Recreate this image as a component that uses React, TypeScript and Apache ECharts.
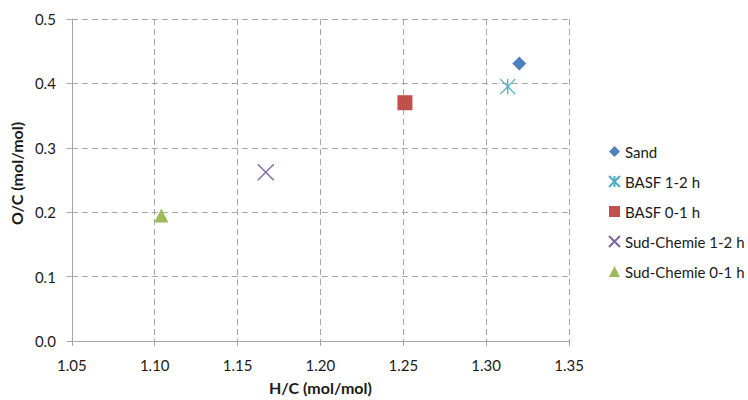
import React, { useEffect, useRef } from "react";
import * as echarts from "echarts";

const seriesNames = ["Sand", "BASF 1-2 h", "BASF 0-1 h", "Sud-Chemie 1-2 h", "Sud-Chemie 0-1 h"];
const hcValues = [1.32, 1.313, 1.251, 1.167, 1.104];
const ocValues = [0.431, 0.395, 0.37, 0.262, 0.195];
const xTicks = [1.05, 1.35, 0.05];
const yTicks = [0, 0.5, 0.1];

const colors = ["#4F81BD", "#4BACC6", "#C0504D", "#8064A2", "#9BBB59"];
const symbols = [
  "diamond",
  "path://M0,0L10,10M10,0L0,10M5,0L5,10",
  "rect",
  "path://M0,0L10,10M10,0L0,10",
  "triangle",
];
const sizes = [14, 15, 15, 16, 14];
const stroked = [false, true, false, true, false];

const FONT = "Lato, 'Noto Sans', sans-serif";

export default function App() {
  const ref = useRef<HTMLDivElement>(null);
  useEffect(() => {
    if (!ref.current) return;
    const chart = echarts.init(ref.current, undefined, { renderer: "svg" });
    chart.setOption({
      animation: false,
      textStyle: { fontFamily: FONT },
      grid: { left: 68.5, right: 179, top: 19, bottom: 56, containLabel: false },
      xAxis: {
        type: "value",
        min: xTicks[0],
        max: xTicks[1],
        interval: xTicks[2],
        name: "H/C (mol/mol)",
        nameLocation: "middle",
        nameGap: 38,
        nameTextStyle: { fontWeight: "bold", fontSize: 16, color: "#1a1a1a", fontFamily: FONT },
        axisLine: { lineStyle: { color: "#A6A6A6", width: 1 } },
        axisTick: { show: true, length: 5, lineStyle: { color: "#A6A6A6" } },
        axisLabel: { fontSize: 15, color: "#1a1a1a", margin: 16, formatter: (v: number) => v.toFixed(2), fontFamily: FONT },
        splitLine: { show: true, lineStyle: { color: "#A6A6A6", type: [6, 4], width: 1 } },
      },
      yAxis: {
        type: "value",
        min: yTicks[0],
        max: yTicks[1],
        interval: yTicks[2],
        name: "O/C (mol/mol)",
        nameLocation: "middle",
        nameGap: 44,
        nameTextStyle: { fontWeight: "bold", fontSize: 16, color: "#1a1a1a", fontFamily: FONT, padding: [0, 0, 0, 13] },
        axisLine: { show: true, lineStyle: { color: "#A6A6A6", width: 1 } },
        axisTick: { show: true, length: 5, lineStyle: { color: "#A6A6A6" } },
        axisLabel: { fontSize: 15, color: "#1a1a1a", margin: 16, formatter: (v: number) => v.toFixed(1), fontFamily: FONT },
        splitLine: { show: true, lineStyle: { color: "#A6A6A6", type: [6, 4], width: 1 } },
      },
      legend: {
        orient: "vertical",
        left: 608,
        top: 143.5,
        itemWidth: 11,
        itemHeight: 11,
        itemGap: 14,
        padding: 0,
        textStyle: { fontSize: 15, color: "#1a1a1a", lineHeight: 16, fontFamily: FONT },
        data: seriesNames,
      },
      series: seriesNames.map((name, i) => ({
        name,
        type: "scatter",
        symbol: symbols[i],
        symbolSize: sizes[i],
        itemStyle: stroked[i]
          ? { color: "rgba(0,0,0,0)", borderColor: colors[i], borderWidth: 1.3, opacity: 1 }
          : { color: colors[i], opacity: 1 },
        data: [[hcValues[i], ocValues[i]]],
      })),
    });
    return () => chart.dispose();
  }, []);
  return <div ref={ref} style={{ width: 748, height: 400, position: "absolute", left: 0, top: 0 }} />;
}
